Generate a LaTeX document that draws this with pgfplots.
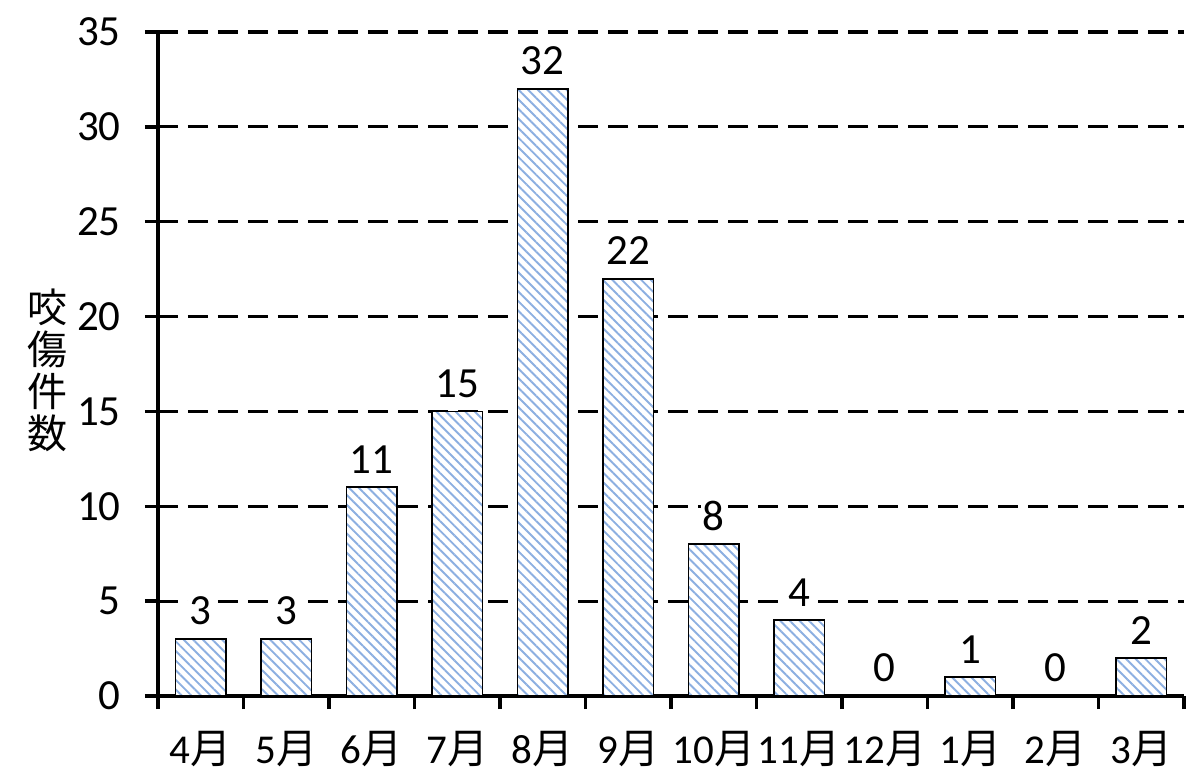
\documentclass[border=0pt]{standalone}
\usepackage{fontspec}
\setmainfont{Carlito}
\newfontfamily\cjk{Noto Sans CJK JP}
\usepackage{pgfplots}
\pgfplotsset{compat=1.18}
\usetikzlibrary{patterns.meta}

\definecolor{hatch}{RGB}{140,175,225}

\begin{document}
\fontsize{21}{24}\selectfont
\begin{tikzpicture}
\path[use as bounding box] (-79pt,-43.5pt) rectangle (521pt,348pt);
\begin{axis}[
  scale only axis,
  width=513pt, height=332pt,
  xmin=-0.5, xmax=11.5,
  ymin=0, ymax=35,
  ytick={0,5,...,35},
  xtick={0,...,11},
  xticklabels={4{\cjk 月},5{\cjk 月},6{\cjk 月},7{\cjk 月},8{\cjk 月},9{\cjk 月},10{\cjk 月},11{\cjk 月},12{\cjk 月},1{\cjk 月},2{\cjk 月},3{\cjk 月}},
  minor xtick={-0.5,0.5,...,11.5},
  axis x line=bottom, axis y line=left,
  axis line style={black, line width=1.7pt, -},
  tick align=outside,
  major tick length=6.5pt,
  minor tick length=6.5pt,
  major x tick style={draw=none},
  minor x tick style={black, line width=1.7pt},
  major y tick style={black, line width=1.7pt},
  ymajorgrids,
  major grid style={black, line width=1.6pt, dash pattern=on 10pt off 5pt},
  xticklabel style={yshift=-4pt, font=\fontsize{20.5}{24}\selectfont},
  yticklabel style={xshift=-5pt},
  /pgf/number format/assume math mode=true,
  tick label style={font=\fontsize{21.5}{24}\selectfont},
  clip=false,
]
\addplot[ybar, bar width=0.59, draw=black, line width=0.9pt, fill=white,
  postaction={pattern={Lines[angle=-45,distance=3.4pt,line width=0.95pt]}, pattern color=hatch},
  nodes near coords,
  every node near coord/.append style={fill=white, inner sep=1pt, anchor=south, yshift=5.5pt, font=\fontsize{21.5}{24}\selectfont}]
  coordinates {
  (0,3) (1,3) (2,11) (3,15) (4,32) (5,22) (6,8) (7,4) (8,0) (9,1) (10,0) (11,2)
};
\node[align=center, font=\cjk\fontsize{20}{21}\selectfont] at (rel axis cs:0,0.49) [xshift=-55pt] {咬\\傷\\件\\数};
\end{axis}
\end{tikzpicture}
\end{document}
